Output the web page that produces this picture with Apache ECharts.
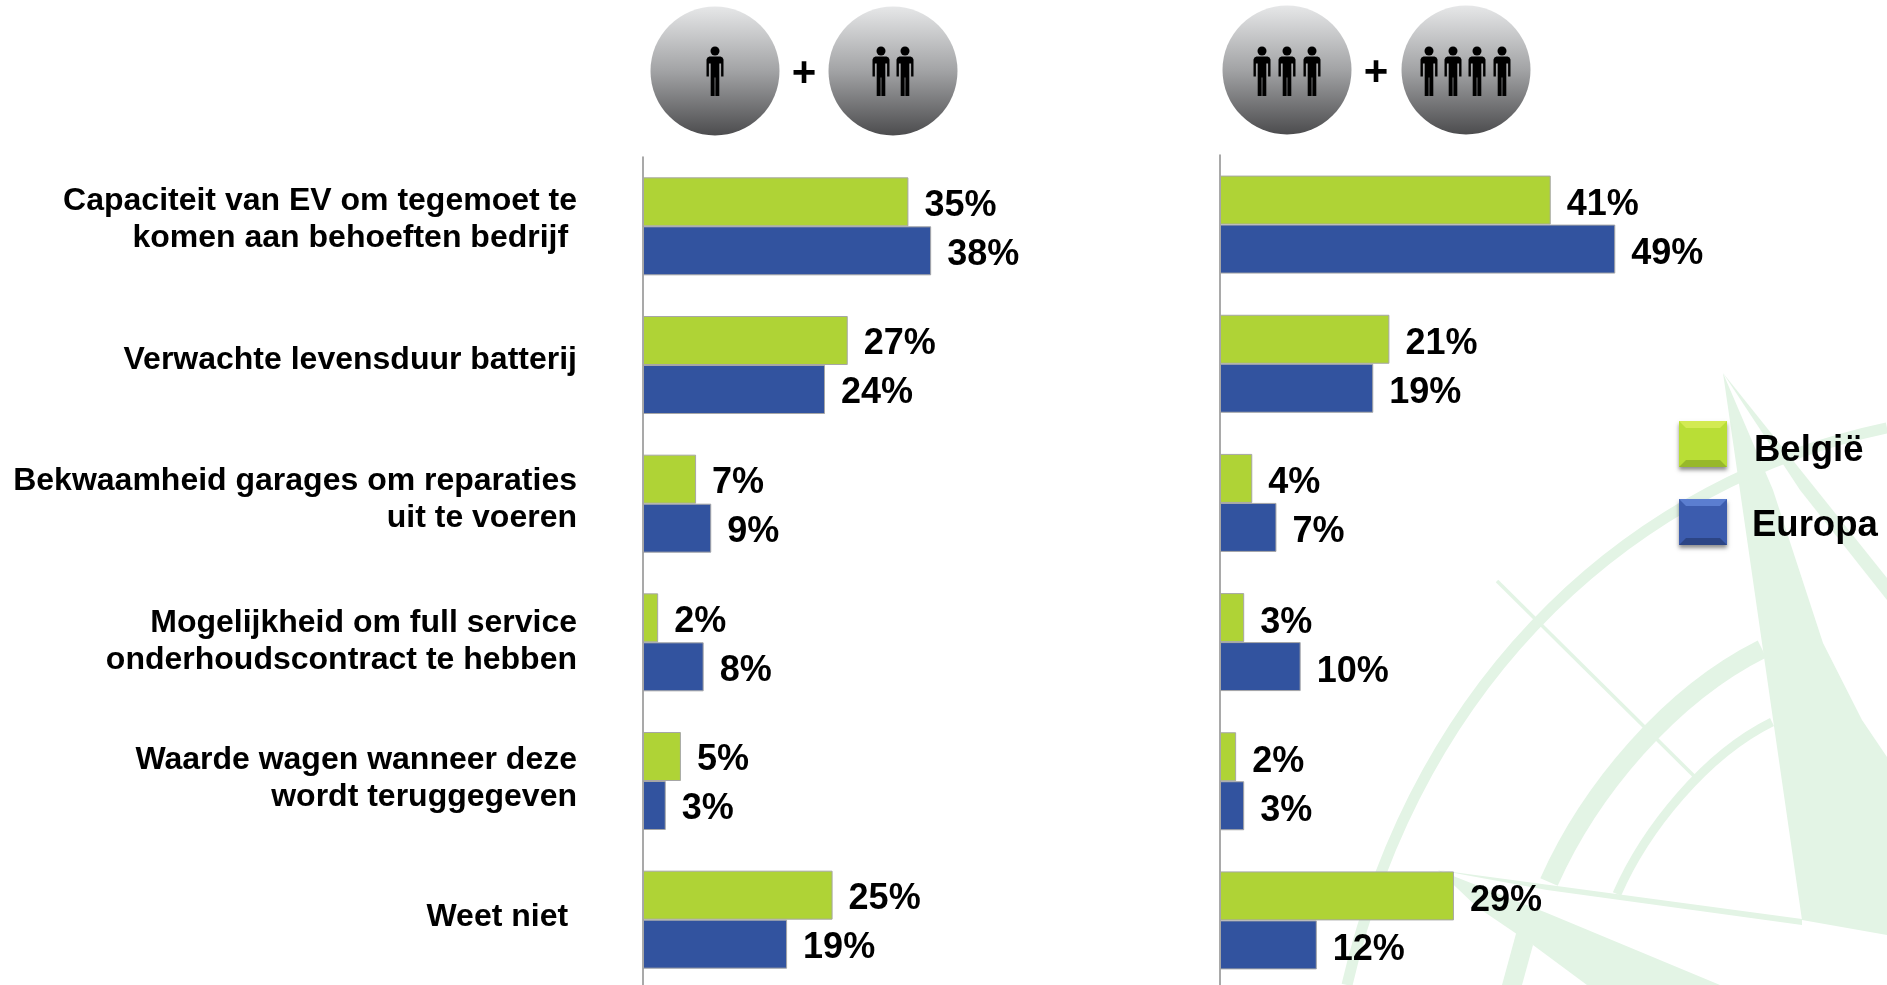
<!DOCTYPE html>
<html>
<head>
<meta charset="utf-8">
<style>
  html, body { margin: 0; padding: 0; background: #fff; overflow: hidden; height: 985px; }
  #chart { width: 1887px; height: 1000px; }
</style>
<script src="https://cdn.jsdelivr.net/npm/echarts@6/dist/echarts.min.js"></script>
</head>
<body>
<div id="chart"></div>
<script>
const categories = [
  'Capaciteit van EV om tegemoet te\nkomen aan behoeften bedrijf ',
  'Verwachte levensduur batterij',
  'Bekwaamheid garages om reparaties\nuit te voeren',
  'Mogelijkheid om full service\nonderhoudscontract te hebben',
  'Waarde wagen wanneer deze\nwordt teruggegeven',
  'Weet niet '
];
const belgieSmall = [35, 27, 7, 2, 5, 25];
const europaSmall = [38, 24, 9, 8, 3, 19];
const belgieLarge = [41, 21, 4, 3, 2, 29];
const europaLarge = [49, 19, 7, 10, 3, 12];
const seriesNames = ['België', 'Europa'];

const GREEN = '#afd336';
const BLUE = '#32539f';
const WATER = '#e3f4e5';
const FONT = '"Liberation Sans", Arial, sans-serif';

function barSeries(name, data, axisIndex, color, labelDy) {
  return {
    name: name,
    type: 'bar',
    xAxisIndex: axisIndex,
    yAxisIndex: axisIndex,
    data: data,
    barWidth: 49,
    barGap: 0,
    itemStyle: { color: color, borderColor: '#a6a6a6', borderWidth: 1 },
    label: {
      show: true,
      position: 'right',
      distance: 16,
      offset: [0, labelDy],
      formatter: '{c}%',
      color: '#000',
      fontFamily: FONT,
      fontWeight: 'bold',
      fontSize: 36
    }
  };
}

// the category labels are not quite centred on their bars in the original,
// an empty last line of this height pushes each one up by half of it
const labelGaps = [13, 10, 8, 1, 4, 5];
const labelRich = {
  t: { fontFamily: FONT, fontWeight: 'bold', fontSize: 32, lineHeight: 37, color: '#000', align: 'right' }
};
labelGaps.forEach(function (gap, i) {
  labelRich['g' + i] = { fontSize: 1, lineHeight: gap, align: 'right' };
});

function categoryLabel(name, index) {
  const i = categories.indexOf(name);
  return name.split('\n').map(function (line) { return '{t|' + line + '}'; }).join('\n') + '\n{g' + i + '| }';
}

function yAxis(grid, showLabels) {
  return {
    type: 'category',
    gridIndex: grid,
    inverse: true,
    data: categories,
    axisTick: { show: false },
    axisLine: { lineStyle: { color: '#8c8c8c', width: 1.5 } },
    axisLabel: {
      show: showLabels,
      margin: 66,
      align: 'right',
      formatter: categoryLabel,
      rich: labelRich
    }
  };
}

function valueAxis(grid) {
  return { type: 'value', gridIndex: grid, min: 0, max: 60, show: false, splitLine: { show: false } };
}

// person glyph: head plus body outline, relative to the top of the shoulders
const bodyOutline = [[3, 0], [14, 0], [16, 1], [17, 3], [17, 20], [14.6, 20], [14.6, 7], [12.8, 7], [12.8, 39.5], [8.9, 39.5],
  [8.9, 21], [8.1, 21], [8.1, 39.5], [4.2, 39.5], [4.2, 7], [2.4, 7], [2.4, 20], [0, 20], [0, 3], [1, 1]];

function person(cx) {
  return [
    { type: 'circle', z: 5, shape: { cx: cx, cy: 51, r: 4.5 }, style: { fill: '#000' } },
    { type: 'polygon', z: 5, shape: { points: bodyOutline.map(function (p) { return [cx - 8.5 + p[0], 56.5 + p[1]]; }) }, style: { fill: '#000' } }
  ];
}

function disc(cx, cy, people) {
  const items = [{
    type: 'circle',
    z: 4,
    shape: { cx: cx, cy: cy, r: 64.5 },
    style: {
      fill: new echarts.graphic.LinearGradient(0, 0, 0, 1, [
        { offset: 0, color: '#e6e7e8' },
        { offset: 0.5, color: '#a2a3a5' },
        { offset: 1, color: '#4c4c4e' }
      ])
    }
  }];
  people.forEach(function (px) {
    items.push.apply(items, person(px));
  });
  return items;
}

function plus(x, y) {
  return {
    type: 'text', z: 5, x: x, y: y + 3,
    style: { text: '+', fill: '#000', font: 'bold 42px ' + FONT, align: 'center', verticalAlign: 'middle' }
  };
}

function legendItem(y, fill, light, dark, name, textX, textY) {
  const x0 = 1679, x1 = 1727, y1 = y + 46, b = 7;
  return [
    { type: 'rect', z: 5, shape: { x: x0, y: y, width: 48, height: 46 },
      style: { fill: fill, shadowBlur: 4, shadowColor: 'rgba(0,0,0,.45)', shadowOffsetY: 3 } },
    { type: 'polygon', z: 6, shape: { points: [[x0, y], [x1, y], [x1 - b, y + b], [x0 + b, y + b]] }, style: { fill: light } },
    { type: 'polygon', z: 6, shape: { points: [[x0, y1], [x1, y1], [x1 - b, y1 - b], [x0 + b, y1 - b]] }, style: { fill: dark } },
    { type: 'text', z: 6, x: textX, y: textY, style: { text: name, fill: '#000', font: 'bold 36.5px ' + FONT, verticalAlign: 'middle' } }
  ];
}

function poly(points) {
  return { type: 'polygon', z: 0, shape: { points: points }, style: { fill: WATER } };
}
function curve(x1, y1, cpx1, cpy1, cpx2, cpy2, x2, y2, width) {
  return {
    type: 'bezierCurve', z: 0,
    shape: { x1: x1, y1: y1, x2: x2, y2: y2, cpx1: cpx1, cpy1: cpy1, cpx2: cpx2, cpy2: cpy2 },
    style: { stroke: WATER, lineWidth: width, fill: null }
  };
}
// compass watermark behind the chart
const compass = [
  poly([[1723, 373], [1773, 490], [1823, 643], [1862, 720], [1887, 757], [1887, 935], [1802, 920]]),
  poly([[1723, 373], [1887, 578], [1887, 600], [1800, 490]]),
  poly([[1438, 870], [1802, 919], [1802, 925], [1547, 890]]),
  poly([[1438, 870], [1547, 913], [1720, 985], [1587, 985], [1533, 945], [1477, 907]]),
  poly([[1517, 930], [1533, 945], [1522, 985], [1502, 985]]),
  curve(1347, 985, 1420, 670, 1640, 480, 1887, 428, 11),
  curve(1549, 882, 1590, 790, 1670, 695, 1762, 649, 19),
  curve(1617, 894, 1645, 830, 1705, 755, 1772, 722, 9),
  { type: 'line', z: 0, shape: { x1: 1497, y1: 581, x2: 1695, y2: 777 }, style: { stroke: WATER, lineWidth: 3.5 } }
];

const graphics = [].concat(
  compass,
  disc(715, 71, [715]),
  disc(893, 71, [881, 905]),
  disc(1287, 70, [1262, 1287, 1312]),
  disc(1466, 70, [1429, 1453, 1477, 1502]),
  [plus(804, 71), plus(1376, 70)],
  legendItem(421, '#b9de36', '#d3ea52', '#97b82b', seriesNames[0], 1754, 451),
  legendItem(499, '#3c5cae', '#5b7ed0', '#2c4585', seriesNames[1], 1752, 526)
);

const chart = echarts.init(document.getElementById('chart'));
chart.setOption({
  animation: false,
  backgroundColor: '#fff',
  grid: [
    { left: 643, top: 157, width: 455, height: 832 },
    { left: 1220, top: 155, width: 484, height: 835 }
  ],
  xAxis: [valueAxis(0), valueAxis(1)],
  yAxis: [yAxis(0, true), yAxis(1, false)],
  series: [
    barSeries(seriesNames[0], belgieSmall, 0, GREEN, 4),
    barSeries(seriesNames[1], europaSmall, 0, BLUE, 4),
    barSeries(seriesNames[0], belgieLarge, 1, GREEN, 5),
    barSeries(seriesNames[1], europaLarge, 1, BLUE, 5)
  ],
  graphic: { elements: graphics }
});
</script>
</body>
</html>
